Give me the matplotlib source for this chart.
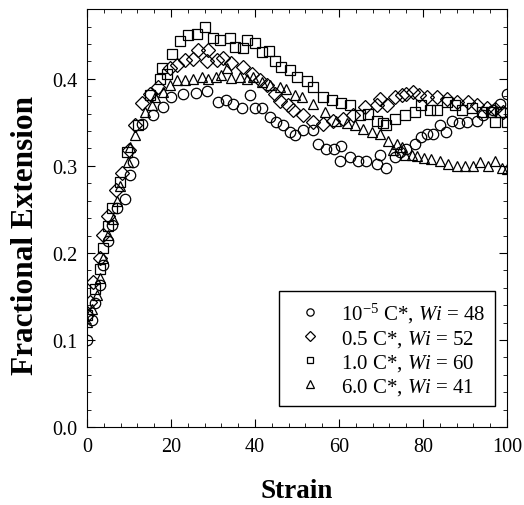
import matplotlib
matplotlib.use("Agg")
import matplotlib.pyplot as plt

plt.rcParams['font.family'] = ['Liberation Serif', 'DejaVu Serif']
plt.rcParams['mathtext.fontset'] = 'custom'
plt.rcParams['mathtext.rm'] = 'Liberation Serif'
plt.rcParams['mathtext.it'] = 'Liberation Serif:italic'

# 10^-5 C*, Wi = 48 (circles)
x_c = [0, 1.1, 1.9, 3.1, 3.9, 5.1, 6, 7.1, 9, 10.2, 11, 13, 15.8, 18, 20, 22.9, 26, 28.5,
       31.2, 33, 34.8, 37, 38.8, 40, 41.6, 43.6, 45, 46.7, 48.3, 49.5, 51.5, 53.9, 55, 57,
       58.9, 60.6, 60.2, 62.6, 64.5, 66.5, 69, 69.8, 71.3, 73.3, 74.5, 76, 78, 79.6, 80.9,
       82.5, 84, 85.6, 87, 88.6, 90.6, 92.8, 94.3, 96.7, 98.3, 100]
y_c = [0.100, 0.123, 0.143, 0.163, 0.186, 0.214, 0.232, 0.252, 0.262, 0.290, 0.304, 0.348,
       0.358, 0.368, 0.379, 0.383, 0.384, 0.386, 0.373, 0.376, 0.371, 0.367, 0.381, 0.367,
       0.367, 0.356, 0.350, 0.347, 0.339, 0.336, 0.341, 0.341, 0.325, 0.319, 0.319, 0.323,
       0.306, 0.310, 0.306, 0.306, 0.302, 0.312, 0.298, 0.310, 0.316, 0.319, 0.325, 0.333,
       0.337, 0.337, 0.347, 0.339, 0.352, 0.349, 0.350, 0.352, 0.358, 0.364, 0.371, 0.383]

# 0.5 C*, Wi = 52 (diamonds)
x_d = [0, 0.7, 1.5, 3.1, 3.8, 5, 7, 8.3, 10, 11.4, 13, 15, 16.9, 19.8, 21.4, 23.3, 25.3,
       26.5, 28.5, 28.8, 30.9, 32.4, 34.4, 37.2, 39.2, 41.2, 42.8, 44.8, 46, 47.9, 49.1,
       51.5, 53.8, 56.2, 58.6, 61, 63.4, 66.2, 69, 69.8, 71.4, 73.3, 75, 76, 77.6, 79,
       81, 83.3, 85.7, 88, 90.8, 92.8, 95.2, 97.2, 99]
y_d = [0.129, 0.144, 0.167, 0.194, 0.221, 0.242, 0.272, 0.292, 0.318, 0.347, 0.372, 0.382,
       0.390, 0.412, 0.416, 0.422, 0.423, 0.433, 0.420, 0.433, 0.422, 0.424, 0.418, 0.414,
       0.406, 0.399, 0.393, 0.383, 0.375, 0.370, 0.364, 0.358, 0.350, 0.348, 0.352, 0.354,
       0.358, 0.368, 0.370, 0.377, 0.370, 0.379, 0.381, 0.383, 0.385, 0.381, 0.379, 0.379,
       0.377, 0.373, 0.373, 0.370, 0.367, 0.365, 0.362]

# 1.0 C*, Wi = 60 (squares)
x_s = [0, 1.9, 3.1, 3.9, 5, 5.9, 7.9, 9.6, 12.2, 15, 17.4, 17.8, 19, 20.2, 22.1, 24, 26.1,
       28.1, 30, 31.7, 34, 35.2, 37.2, 38, 40, 41.6, 43.3, 44.8, 46.3, 48.3, 49.9, 52.3,
       53.9, 56.2, 58.3, 60.6, 62.6, 65, 67, 69, 70.6, 71.3, 73.3, 75.7, 78, 79.6, 81.7,
       83.3, 85.7, 87.6, 89.2, 91.6, 94, 96.3, 97.1, 98.3, 100]
y_s = [0.129, 0.158, 0.181, 0.206, 0.231, 0.252, 0.281, 0.316, 0.347, 0.381, 0.400, 0.412,
       0.406, 0.428, 0.443, 0.450, 0.452, 0.460, 0.447, 0.445, 0.447, 0.437, 0.435, 0.445,
       0.441, 0.431, 0.432, 0.420, 0.414, 0.410, 0.402, 0.397, 0.391, 0.379, 0.376, 0.372,
       0.370, 0.358, 0.360, 0.352, 0.349, 0.347, 0.354, 0.358, 0.362, 0.370, 0.364, 0.364,
       0.373, 0.370, 0.364, 0.366, 0.362, 0.362, 0.350, 0.362, 0.350]

# 6.0 C*, Wi = 41 (triangles)
x_t = [0, 1.1, 2.3, 3.1, 3.9, 5, 6.2, 7.1, 7.9, 9.8, 10.2, 11.4, 13.8, 15.4, 16.2, 18.1,
       19.8, 21.4, 23.3, 25.3, 27.3, 28.8, 30.8, 32, 33.3, 34.4, 36.4, 38, 39.5, 41.6, 43.6,
       46, 47.5, 49.5, 51.1, 53.8, 56.7, 59.4, 61.8, 63.7, 65.7, 67.8, 69.8, 71.7, 72.9,
       73.7, 75, 75.7, 77.3, 78.6, 80.2, 82, 84, 86, 88, 89.9, 91.9, 93.5, 95.5, 97.1,
       98.7, 100]
y_t = [0.121, 0.136, 0.152, 0.171, 0.194, 0.221, 0.239, 0.260, 0.277, 0.304, 0.322, 0.335,
       0.362, 0.370, 0.379, 0.385, 0.393, 0.399, 0.399, 0.400, 0.402, 0.400, 0.402, 0.404,
       0.412, 0.401, 0.402, 0.400, 0.402, 0.396, 0.393, 0.390, 0.388, 0.381, 0.379, 0.371,
       0.362, 0.352, 0.349, 0.347, 0.342, 0.339, 0.337, 0.329, 0.318, 0.325, 0.322, 0.313,
       0.313, 0.311, 0.309, 0.308, 0.306, 0.302, 0.300, 0.300, 0.300, 0.304, 0.300, 0.306,
       0.298, 0.296]

labels = [r'$10^{-5}$ C*, $\mathit{Wi}$ = 48',
          r'0.5 C*, $\mathit{Wi}$ = 52',
          r'1.0 C*, $\mathit{Wi}$ = 60',
          r'6.0 C*, $\mathit{Wi}$ = 41']

fig = plt.figure(figsize=(5.24, 5.06), dpi=100)
ax = fig.add_axes([0.166, 0.154, 0.8015, 0.826])

ax.plot(x_c, y_c, 'o', ms=7.5, mfc='none', mec='black', mew=0.9, label=labels[0])
ax.plot(x_d, y_d, 'D', ms=6.8, mfc='none', mec='black', mew=0.9, label=labels[1])
ax.plot(x_s, y_s, 's', ms=7, mfc='none', mec='black', mew=0.9, label=labels[2])
ax.plot(x_t, y_t, '^', ms=7.5, mfc='none', mec='black', mew=0.9, label=labels[3])

ax.set_xlim(0, 100)
ax.set_ylim(0, 0.48)
ax.set_xticks([0, 20, 40, 60, 80, 100])
ax.set_xticks(range(0, 101, 4), minor=True)
ax.set_yticks([0.0, 0.1, 0.2, 0.3, 0.4])
ax.set_yticks([i * 0.02 for i in range(25)], minor=True)
ax.set_yticklabels(['0.0', '0.1', '0.2', '0.3', '0.4'])
ax.tick_params(which='both', direction='in', top=True, right=True, labelsize=14.5)
ax.tick_params(which='major', length=6, pad=7)
ax.tick_params(which='minor', length=3)

ax.set_xlabel('Strain', fontsize=19.5, fontweight='bold', labelpad=16)
ax.set_ylabel('Fractional Extension', fontsize=22.5, fontweight='bold')
ax.yaxis.set_label_coords(-0.112, 0.46)

leg = ax.legend(loc='lower right', bbox_to_anchor=(0.971, 0.05), borderaxespad=0,
                fontsize=15, fancybox=False, edgecolor='black', framealpha=1,
                markerscale=0.7, handlelength=2.0, handletextpad=0.5,
                labelspacing=0.15, borderpad=0.45)
leg.get_frame().set_linewidth(1.0)

plt.savefig('out.png', dpi=100)
